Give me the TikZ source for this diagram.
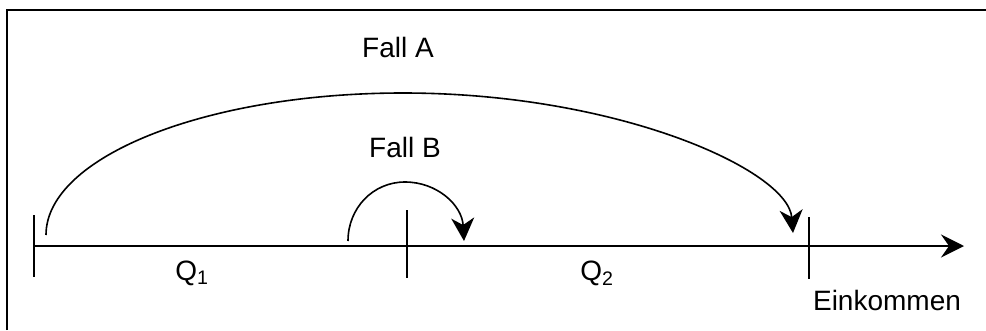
\documentclass[tikz,border=0pt]{standalone}
\usepackage{fontspec}
\setmainfont{Liberation Sans}
\usetikzlibrary{arrows.meta}
\begin{document}
\begin{tikzpicture}[x=1pt,y=-1pt,
  lbl/.style={font=\fontsize{28}{32}\selectfont, inner sep=0pt, anchor=base},
  axisline/.style={line width=2pt, -{Stealth[length=23pt,width=23pt,inset=8pt]}},
  tickline/.style={line width=1.6pt},
  jump/.style={line width=1.6pt, -{Stealth[length=23pt,width=23pt,inset=7pt]}},
  frameline/.style={line width=2.2pt}]
\useasboundingbox (0,0) rectangle (986,330);
% frame (top and left edges)
\coordinate (fbl) at (7,330);
\coordinate (ftl) at (7,10);
\coordinate (ftr) at (986,10);
\draw[frameline] (fbl) -- (ftl) -- (ftr);
% axis
\coordinate (a0) at (34,246);
\coordinate (aend) at (964,246);
\draw[axisline] (a0) -- (aend);
% ticks
\coordinate (t1a) at (34,215);  \coordinate (t1b) at (34,277);
\coordinate (t2a) at (407,210); \coordinate (t2b) at (407,278);
\coordinate (t3a) at (809,217); \coordinate (t3b) at (809,279);
\draw[tickline] (t1a) -- (t1b);
\draw[tickline] (t2a) -- (t2b);
\draw[tickline] (t3a) -- (t3b);
% Fall A arc
\coordinate (As) at (46,235);
\coordinate (Atop) at (403,93);
\coordinate (Ae) at (793,233);
\draw[jump] (As) .. controls (46,157) and (206,93) .. (Atop)
  .. controls (618,93) and (788,170) .. (Ae);
% Fall B arc
\coordinate (Bs) at (348,241);
\coordinate (Btop) at (405,182);
\coordinate (Be) at (464,241);
\draw[jump] (Bs) .. controls (348,208) and (373,182) .. (Btop)
  .. controls (437,182) and (462,205) .. (Be);
% labels
\node[lbl] (fa) at (398,57) {Fall A};
\node[lbl] (fb) at (405,157) {Fall B};
\node[lbl] (q1) at (192,280) {Q\textsubscript{1}};
\node[lbl] (q2) at (597,280) {Q\textsubscript{2}};
\node[lbl] (ek) at (887,310) {Einkommen};
\end{tikzpicture}
\end{document}
